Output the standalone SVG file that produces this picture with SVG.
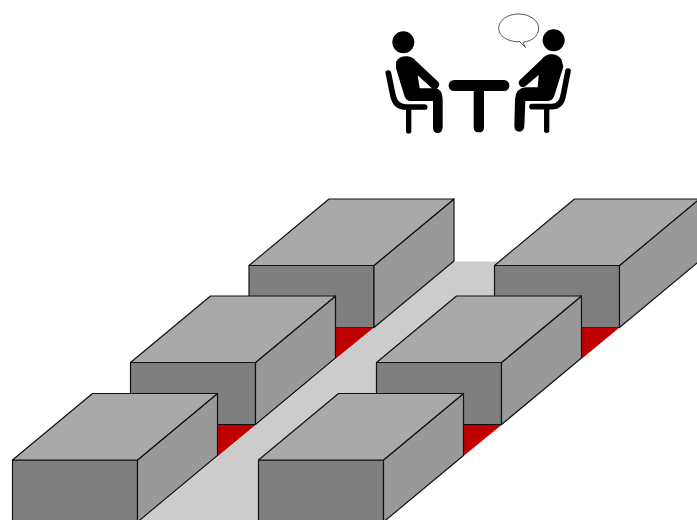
<svg xmlns="http://www.w3.org/2000/svg" width="697" height="520" viewBox="0 0 697 520">
<style>
.top{fill:#a9a9a9;stroke:#111;stroke-width:1.2;stroke-linejoin:round}
.front{fill:#7f7f7f;stroke:#111;stroke-width:1.2;stroke-linejoin:round}
.side{fill:#999;stroke:#111;stroke-width:1.2;stroke-linejoin:round}
.red{fill:#c00000}
.ink{fill:#000}
.line{fill:none;stroke:#000;stroke-width:17;stroke-linecap:round;stroke-linejoin:round}
</style>
<defs>
<g id="box">
<path class="front" d="M0 0H125V62H0Z"/>
<path class="side" d="M125 0L205 -66.500V-4.500L125 62Z"/>
<path class="top" d="M0 0L80 -66.500H205L125 0Z"/>
</g>
</defs>
<rect width="697" height="520" fill="#fff"/>
<polygon id="road" points="454,261.500 497,261.500 497,300 258,520 141,520" fill="#ccc"/>
<g id="box1"><use href="#box" x="249" y="265.500"/></g>
<g id="box4"><use href="#box" x="494.500" y="265.500"/></g>
<polygon id="red1" class="red" points="336,327.500 374,327.500 336,358.500"/>
<polygon id="red4" class="red" points="582,327.500 619.500,327.500 582,358.500"/>
<g id="box2"><use href="#box" x="130.500" y="362.500"/></g>
<g id="box5"><use href="#box" x="376.500" y="362.500"/></g>
<polygon id="red2" class="red" points="218,425 255.500,425 218,456"/>
<polygon id="red5" class="red" points="463.500,425 501.500,425 463.500,456"/>
<g id="box3"><use href="#box" x="12.500" y="460"/></g>
<g id="box6"><use href="#box" x="258.500" y="460"/></g>
<g id="meeting" transform="translate(370 5) scale(.33333)">
<g id="person-left">
<circle class="ink" cx="100" cy="112" r="33"/>
<path class="ink" d="M78 170Q90 152 112 154Q128 156 138 168L206 232Q211 242 202 250Q193 256 184 248L143 211L149 250H195Q218 252 218 282V368Q216 384 203 384Q190 384 189 368V288L122 288Q108 288 103 272L78 190Z"/>
<path class="line" d="M55 204L69 272Q76 306 108 306H164"/>
<path class="line" style="stroke-width:16" d="M116 312V378"/>
</g>
<g id="table">
<rect class="ink" x="236" y="225" width="182" height="33" rx="16"/>
<path class="ink" d="M311 250H342V368Q341 382 327 382Q312 382 311 368Z"/>
</g>
<g id="person-right">
<circle class="ink" cx="551" cy="106" r="33"/>
<path class="ink" d="M574 162Q562 146 540 148Q526 150 516 162L449 226Q442 236 451 244Q459 250 468 242L506 210L503 247H468Q437 250 435 282L433 364Q434 380 448 380Q461 380 463 364L466 288H530Q548 288 553 272L580 185Z"/>
<path class="line" d="M594 198L580 270Q574 305 545 305H486"/>
<path class="line" style="stroke-width:16" d="M530 310V376"/>
</g>
<path id="bubble" d="M459 112C486 109 506 92 506 70C506 46 478 27 446 27C412 27 386 46 386 70C386 91 408 108 444 111L447 108L467 128L459 112Z" fill="#fff" stroke="#555" stroke-width="3" stroke-linejoin="round"/>
</g>
</svg>
